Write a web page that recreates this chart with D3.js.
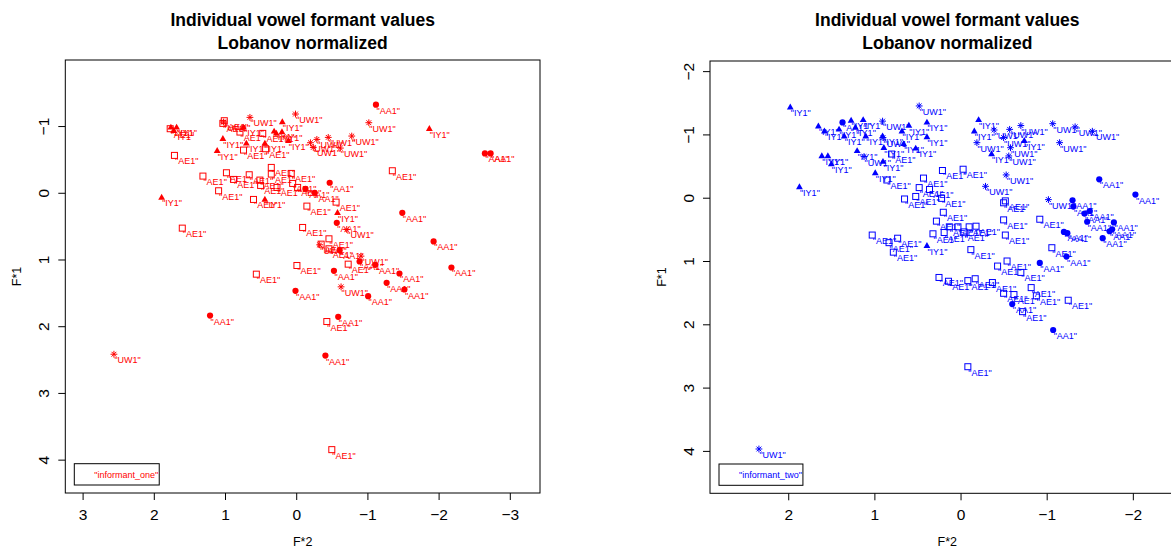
<!DOCTYPE html>
<html>
<head>
<meta charset="utf-8">
<script src="https://cdn.jsdelivr.net/npm/d3@7"></script>
<style>
  body { margin: 0; background: #fff; }
  svg { font-family: "Liberation Sans", Arial, Helvetica, sans-serif; }
</style>
</head>
<body>
<svg id="chart" width="1171" height="549"></svg>
<script>
// values: [F*2, F*1] per token

var oneAA1 = [[-1.12,-1.32],[-2.65,-0.59],[-2.73,-0.59],[-0.47,-0.15],[-0.13,-0.06],[-0.26,0.0],
  [-1.49,0.30],[-0.57,0.45],[-1.93,0.73],[-0.61,0.86],[-2.18,1.12],[-0.89,1.03],[-1.11,1.08],
  [-0.53,1.17],[-1.45,1.21],[-1.27,1.35],[-1.52,1.45],[0.01,1.47],[-1.01,1.55],[1.21,1.84],
  [-0.59,1.86],[-0.41,2.44]];

var oneAE1 = [[1.01,-1.08],[1.03,-1.04],[1.77,-0.96],[1.71,-0.56],[0.79,-0.91],[0.47,-0.89],
  [0.74,-0.64],[0.43,-0.66],[0.35,-0.38],[0.35,-0.28],[1.31,-0.25],[0.98,-0.30],[0.66,-0.27],
  [0.88,-0.20],[0.51,-0.19],[0.50,-0.11],[0.07,-0.29],[0.05,-0.14],[-0.02,-0.08],[0.27,-0.08],
  [1.09,-0.03],[0.60,0.10],[-0.15,0.20],[-0.56,0.14],[-0.09,0.52],[-0.46,0.69],[-0.35,0.77],
  [-0.46,0.84],[-0.73,1.07],[-0.01,1.09],[0.56,1.22],[1.60,0.53],[-0.43,1.93],[-0.50,3.85],
  [-1.35,-0.33]];

var oneIY1 = [[1.76,-0.98],[1.68,-0.98],[1.72,-0.93],[1.03,-0.81],[1.11,-0.63],[0.74,-0.98],
  [0.70,-0.74],[0.44,-0.74],[0.31,-0.92],[0.28,-0.89],[0.20,-0.91],[0.195,-1.06],[0.11,-0.78],
  [-1.87,-0.96],[1.89,0.07],[0.44,0.10],[-0.58,0.30]];

var oneUW1 = [[0.65,-1.13],[0.01,-1.18],[-1.02,-1.05],[-0.20,-0.75],[-0.29,-0.80],[-0.45,-0.83],
  [-0.78,-0.85],[-0.24,-0.68],[-0.62,-0.67],[1.02,-1.06],[-0.71,0.55],[-0.33,0.78],[-0.91,0.95],
  [-0.63,1.41],[2.56,2.42]];

var twoAA1 = [[1.37,-1.19],[-1.61,-0.29],[-2.03,-0.05],[-1.30,0.04],[-1.31,0.14],[-1.44,0.25],
  [-1.50,0.21],[-1.47,0.38],[-1.78,0.39],[-1.73,0.53],[-1.76,0.50],[-1.20,0.54],[-1.24,0.56],
  [-1.65,0.64],[-1.23,0.93],[-0.92,1.03],[-0.60,1.68],[-1.075,2.09]];

var twoAE1 = [[0.80,-0.69],[0.21,-0.43],[-0.03,-0.45],[0.43,-0.31],[0.855,-0.28],[0.48,-0.16],
  [0.36,-0.13],[0.65,0.02],[0.52,-0.02],[0.22,0.01],[0.20,0.23],[0.28,0.37],[0.13,0.46],
  [0.03,0.46],[-0.10,0.46],[-0.18,0.45],[0.32,0.57],[0.19,0.55],[-0.04,0.54],[1.025,0.59],
  [0.83,0.71],[0.73,0.64],[0.78,0.86],[-0.12,0.82],[-0.50,0.35],[-0.52,0.05],[-0.50,0.08],
  [-0.52,0.59],[-0.92,0.34],[-1.06,0.79],[-0.54,1.00],[-0.43,1.08],[-0.70,1.18],[0.25,1.26],
  [0.14,1.32],[-0.085,1.31],[-0.17,1.28],[-0.37,1.34],[-0.50,1.51],[-0.62,1.53],[-0.82,1.42],
  [-0.88,1.55],[-0.72,1.80],[-1.25,1.62],[-0.085,2.67]];

var twoIY1 = [[1.976,-1.43],[1.87,-0.17],[1.65,-1.13],[1.58,-1.05],[1.61,-0.66],[1.54,-0.66],
  [1.50,-0.53],[1.41,-1.08],[1.35,-0.97],[1.27,-1.22],[1.22,-1.11],[1.13,-1.23],[1.10,-0.97],
  [1.20,-0.74],[0.905,-0.97],[0.89,-0.79],[0.90,-0.57],[0.99,-0.39],[0.68,-1.05],[0.66,-0.85],
  [0.60,-1.14],[0.52,-0.78],[0.39,-0.96],[0.39,-1.19],[0.39,0.76],[-0.21,-1.23],[-0.16,-1.05],
  [-0.36,-0.69],[-0.74,-0.90]];

var twoUW1 = [[0.48,-1.45],[0.905,-1.21],[0.90,-0.95],[1.12,-0.65],[-0.39,-1.07],[-0.57,-1.08],
  [-0.70,-1.14],[-0.50,-0.95],[-0.19,-0.87],[-0.58,-0.79],[-0.56,-0.66],[-1.07,-1.17],
  [-1.33,-1.12],[-1.53,-1.05],[-1.15,-0.87],[-0.53,-0.36],[-0.29,-0.18],[-1.02,0.03],[2.34,3.97]];

var vowels = ["AA1", "AE1", "IY1", "UW1"];
var informants = ["informant_one", "informant_two"];

var xTicksOne = [3, 2, 1, 0, -1, -2, -3];
var yTicksOne = [-1, 0, 1, 2, 3, 4];
var xTicksTwo = [2, 1, 0, -1, -2];
var yTicksTwo = [-2, -1, 0, 1, 2, 3, 4];

var titleLines = ["Individual vowel formant values", "Lobanov normalized"];


var svg = d3.select("#chart");
var fmt = d3.format("d");

var panels = [
  { left: 65.3, right: 540, top: 60, bottom: 493,
    xDomain: [3.243, -3.424], yDomain: [-1.99, 4.5],
    color: "#ff0000", name: informants[0],
    xTicks: xTicksOne, yTicks: yTicksOne,
    sets: [oneAA1, oneAE1, oneIY1, oneUW1] },
  { left: 710, right: 1184.7, top: 61, bottom: 493.3,
    xDomain: [2.908, -2.602], yDomain: [-2.16, 4.67],
    color: "#0000ff", name: informants[1],
    xTicks: xTicksTwo, yTicks: yTicksTwo,
    sets: [twoAA1, twoAE1, twoIY1, twoUW1] }
];

panels.forEach(drawPanel);

function drawPanel(p) {
  var g = svg.append("g");
  var x = d3.scaleLinear().domain(p.xDomain).range([p.left, p.right]);
  var y = d3.scaleLinear().domain(p.yDomain).range([p.top, p.bottom]);
  var cx = (p.left + p.right) / 2;

  // title
  g.append("g").selectAll("text")
    .data(titleLines)
    .enter().append("text")
    .attr("x", cx)
    .attr("y", function(d, i) { return 26 + i * 23; })
    .attr("text-anchor", "middle")
    .attr("font-size", "17.5px")
    .attr("font-weight", "bold")
    .text(function(d) { return d; });

  // axes
  var xa = g.append("g")
    .attr("transform", "translate(0," + p.bottom + ")")
    .call(d3.axisBottom(x).tickValues(p.xTicks).tickFormat(fmt).tickSize(7).tickSizeOuter(0));
  xa.select(".domain").remove();
  xa.attr("font-family", null).attr("font-size", null);
  xa.selectAll("text").attr("y", 26.5).attr("dy", null)
    .attr("font-size", "15.5px").attr("fill", "#000");

  var ya = g.append("g")
    .attr("transform", "translate(" + p.left + ",0)")
    .call(d3.axisLeft(y).tickValues(p.yTicks).tickFormat(fmt).tickSize(7).tickSizeOuter(0));
  ya.select(".domain").remove();
  ya.attr("font-family", null).attr("font-size", null);
  ya.selectAll("text")
    .attr("x", null).attr("dy", null)
    .attr("transform", "translate(-16.3,0) rotate(-90)")
    .attr("text-anchor", "middle")
    .attr("font-size", "15.5px").attr("fill", "#000");

  // axis labels
  g.append("text")
    .attr("x", cx).attr("y", 546)
    .attr("text-anchor", "middle").attr("font-size", "12.5px")
    .text("F*2");
  g.append("text")
    .attr("transform", "translate(" + (p.left - 44.5) + "," + ((p.top + p.bottom) / 2) + ") rotate(-90)")
    .attr("text-anchor", "middle").attr("font-size", "12.5px")
    .text("F*1");

  // box
  g.append("rect")
    .attr("x", p.left).attr("y", p.top)
    .attr("width", p.right - p.left).attr("height", p.bottom - p.top)
    .attr("fill", "none").attr("stroke", "#000").attr("stroke-width", 1);

  // points
  vowels.forEach(function(v, k) {
    var pts = g.append("g").attr("class", "v" + v).selectAll("g")
      .data(p.sets[k])
      .enter().append("g")
      .attr("transform", function(d) { return "translate(" + x(d[0]) + "," + y(d[1]) + ")"; });

    if (v == "AA1") {
      pts.append("circle").attr("r", 3.1).attr("fill", p.color);
    } else if (v == "AE1") {
      pts.append("rect").attr("x", -3).attr("y", -3).attr("width", 6).attr("height", 6)
        .attr("fill", "none").attr("stroke", p.color).attr("stroke-width", 1);
    } else if (v == "IY1") {
      pts.append("path").attr("d", "M0,-3.7L3.4,2.2L-3.4,2.2Z").attr("fill", p.color);
    } else {
      pts.append("path")
        .attr("d", "M-3.4,0H3.4M0,-3.4V3.4M-2.4,-2.4L2.4,2.4M-2.4,2.4L2.4,-2.4")
        .attr("stroke", p.color).attr("stroke-width", 1).attr("fill", "none");
    }
  });

  // labels
  vowels.forEach(function(v, k) {
    g.append("g").selectAll("text")
      .data(p.sets[k])
      .enter().append("text")
      .attr("x", function(d) { return x(d[0]) + 0.5; })
      .attr("y", function(d) { return y(d[1]) + 9; })
      .attr("font-size", "9px")
      .attr("fill", p.color)
      .text('"' + v + '"');
  });

  // legend
  var lg = g.append("g");
  var lt = lg.append("text")
    .attr("x", p.left + 29).attr("y", p.bottom - 15)
    .attr("font-size", "9px").attr("fill", p.color)
    .text('"' + p.name + '"');
  var tw = lt.node().getComputedTextLength();
  lg.insert("rect", "text")
    .attr("x", p.left + 9).attr("y", p.bottom - 29.3)
    .attr("width", 20 + tw + 1).attr("height", 21.3)
    .attr("fill", "none").attr("stroke", "#000").attr("stroke-width", 1);
}
</script>
</body>
</html>
